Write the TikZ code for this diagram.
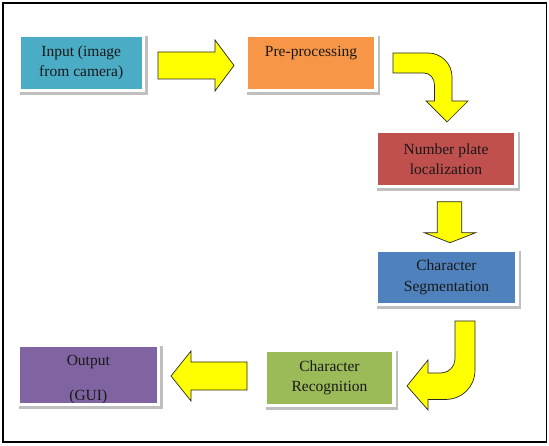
\documentclass[tikz,border=0pt]{standalone}
\usepackage{fontspec}
\setmainfont{Liberation Serif}
\usetikzlibrary{shadows}
\definecolor{inpc}{HTML}{4BACC6}
\definecolor{prec}{HTML}{F79646}
\definecolor{nplc}{HTML}{C0504D}
\definecolor{segc}{HTML}{4F81BD}
\definecolor{recc}{HTML}{9BBB59}
\definecolor{outc}{HTML}{8064A2}
\definecolor{arrowc}{HTML}{FFFF00}
\tikzset{
  stage/.style={draw=white, line width=3.5pt, inner sep=0pt, outer sep=0pt,
    align=center, font=\fontsize{15.5}{20.5}\selectfont, text=black!90,
    drop shadow={shadow xshift=2.5pt, shadow yshift=-2.5pt, opacity=1,
      fill=black!25, draw=black!25, line width=3.5pt}},
  blockarrow/.style={fill=arrowc, draw=black!85, line width=0.7pt, line join=miter},
  frame/.style={draw=black, line width=1.8pt}
}
\begin{document}
\begin{tikzpicture}[x=1pt,y=-1pt]
\useasboundingbox (0,0) rectangle (549,446);
\fill[white] (0,0) rectangle (549,446);
\draw[frame] (2.7,2.7) rectangle (546.5,442);

% stages
\node[stage, fill=inpc, minimum width=124.5pt, minimum height=55.5pt] (inp) at (81.2,63)
  {Input (image\\from camera)};
\node[stage, fill=prec, minimum width=129.5pt, minimum height=55.5pt] (pre) at (311,63)
  {Pre-processing\\\vphantom{()}};
\node[stage, fill=nplc, minimum width=139.5pt, minimum height=55.5pt] (npl) at (446,159)
  {Number plate\\localization};
\node[stage, fill=segc, minimum width=140.5pt, minimum height=54.5pt] (seg) at (446.5,277.5)
  {Character\\Segmentation};
\node[stage, fill=recc, minimum width=129pt, minimum height=55.8pt] (rec) at (329.5,377.8)
  {Character\\Recognition};
\node[stage, fill=outc, minimum width=140.2pt, minimum height=59.8pt] (out) at (88.3,374.8)
  {\rule{0pt}{20pt}Output\\[14.5pt](GUI)};
\draw[white, line width=3.5pt] (out.south west) -- (out.south east);

% block arrows
\draw[blockarrow] (158,52) -- (215,52) -- (215,40) -- (234,65.5) -- (215,91) -- (215,79)
  -- (158,79) -- cycle;
\draw[blockarrow] (393,53) -- (428,53) .. controls (441.3,53) and (452,63.7) .. (452,77)
  -- (452,101) -- (468,101) -- (447,122) -- (426,101) -- (434.5,101) -- (434.5,85)
  .. controls (434.5,78.4) and (430,73) .. (424,73) -- (393,73) -- cycle;
\draw[blockarrow] (437.3,201.7) -- (461.7,201.7) -- (461.7,232.7) -- (475.7,232.7)
  -- (450,242.7) -- (424.3,232.7) -- (437.3,232.7) -- cycle;
\draw[blockarrow] (455,321) -- (475,321) -- (475,370) .. controls (475,387) and (462,399.5) .. (445,399.5)
  -- (428,399.5) -- (428,410) -- (407,386) -- (428,360) -- (428,373) -- (440,373)
  .. controls (448.5,373) and (455,367) .. (455,358) -- cycle;
\draw[blockarrow] (247,362) -- (191,362) -- (191,351) -- (171,376) -- (191,401) -- (191,390)
  -- (247,390) -- cycle;
\end{tikzpicture}
\end{document}
